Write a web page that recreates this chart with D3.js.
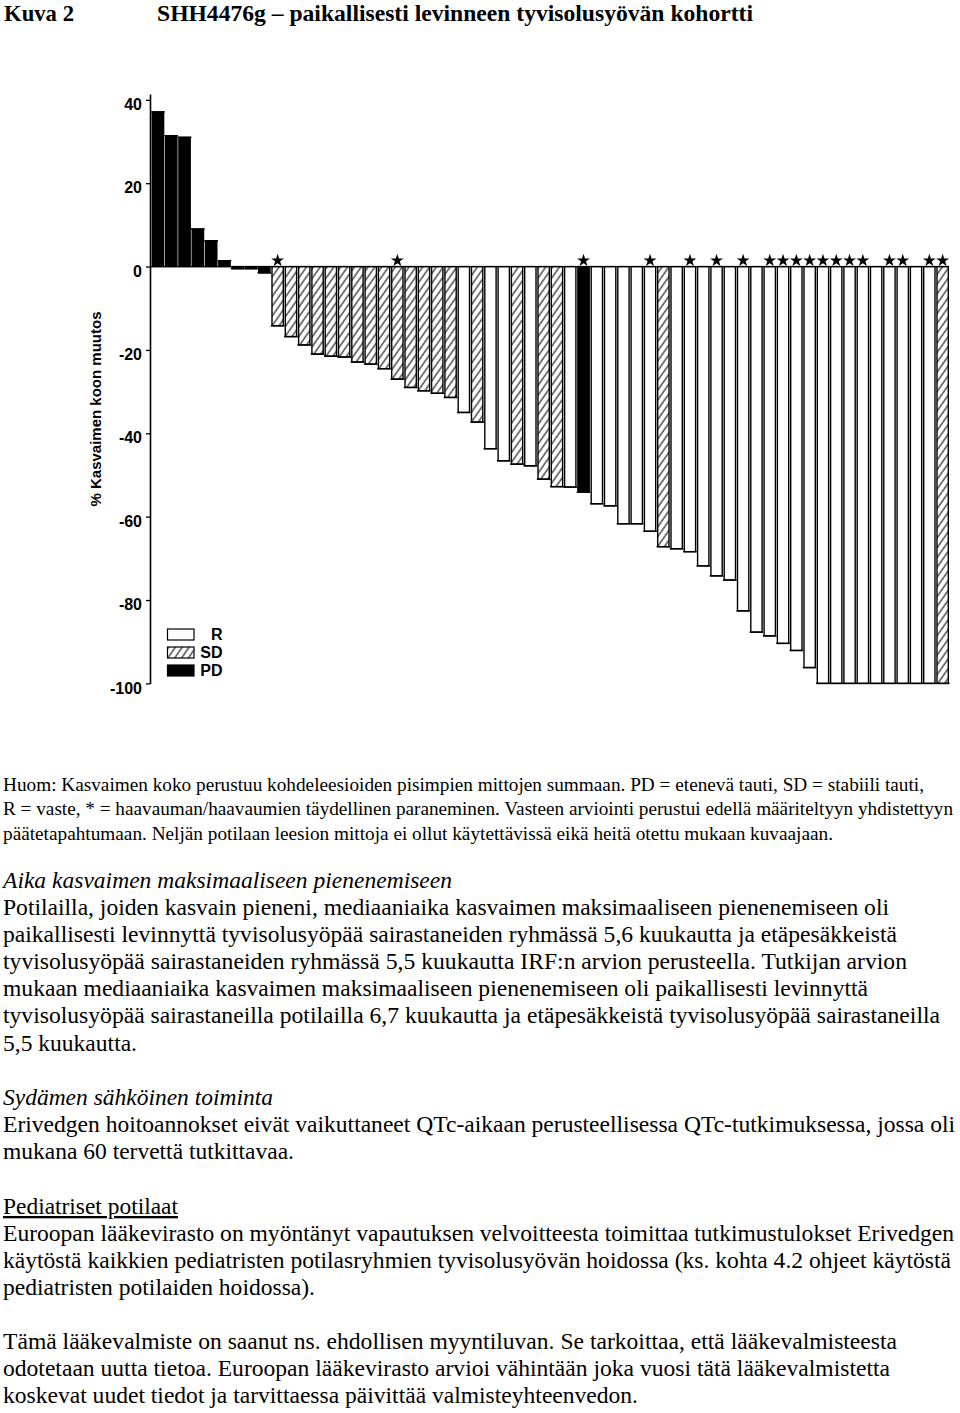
<!DOCTYPE html>
<html>
<head>
<meta charset="utf-8">
<script src="https://cdn.jsdelivr.net/npm/d3@7"></script>
<style>
  html, body { margin: 0; padding: 0; background: #fff; }
  svg { display: block; }
</style>
</head>
<body>
<div id="chart"></div>
<script>
// ---------------- DATA ----------------
const patients = d3.range(1, 61).map(String);
const changePct = [
  37.1, 31.4, 31.0, 9.0, 6.2, 1.4, -0.5, -0.5, -1.5,
  -14.2, -16.8, -18.8, -21.0, -21.5, -21.7, -22.9, -23.4, -24.5, -27.0, -29.0, -29.8, -30.4, -31.4,
  -35.0, -37.3, -43.7, -46.6, -47.4, -47.8, -51.0, -52.8, -52.9, -54.1, -56.9, -57.4,
  -61.7, -61.7, -63.5, -67.2, -67.7, -68.4, -71.8, -74.2, -75.2, -82.6, -87.7, -88.6, -90.4, -92.1, -96.2,
  -100, -100, -100, -100, -100, -100, -100, -100, -100, -100
];
const response = [
  "PD","PD","PD","PD","PD","PD","PD","PD","PD",
  "SD","SD","SD","SD","SD","SD","SD","SD","SD","SD","SD","SD","SD","SD",
  "R","SD","R","R","SD","R","SD","SD","R","PD","R","R",
  "R","R","R","SD","R","R","R","R","R","R","R","R","R","R","R",
  "R","R","R","R","R","R","R","R","R","SD"
];
const healedPatients = [10, 19, 33, 38, 41, 43, 45, 47, 48, 49, 50, 51, 52, 53, 54, 56, 57, 59, 60];
const yTicks = [40, 20, 0, -20, -40, -60, -80, -100];
const yTickLabels = ["40", "20", "0", "-20", "-40", "-60", "-80", "-100"];
const legendItems = ["R", "SD", "PD"];
const yAxisTitle = "% Kasvaimen koon muutos";

const titleLeft = "Kuva 2";
const titleRight = "SHH4476g \u2013 paikallisesti levinneen tyvisolusyövän kohortti";

const noteLines = [
  "Huom: Kasvaimen koko perustuu kohdeleesioiden pisimpien mittojen summaan. PD = etenevä tauti, SD = stabiili tauti,",
  "R = vaste, * = haavauman/haavaumien täydellinen paraneminen. Vasteen arviointi perustui edellä määriteltyyn yhdistettyyn",
  "päätetapahtumaan. Neljän potilaan leesion mittoja ei ollut käytettävissä eikä heitä otettu mukaan kuvaajaan."
];
const bodyLines = [
  "Aika kasvaimen maksimaaliseen pienenemiseen",
  "Potilailla, joiden kasvain pieneni, mediaaniaika kasvaimen maksimaaliseen pienenemiseen oli",
  "paikallisesti levinnyttä tyvisolusyöpää sairastaneiden ryhmässä 5,6 kuukautta ja etäpesäkkeistä",
  "tyvisolusyöpää sairastaneiden ryhmässä 5,5 kuukautta IRF:n arvion perusteella. Tutkijan arvion",
  "mukaan mediaaniaika kasvaimen maksimaaliseen pienenemiseen oli paikallisesti levinnyttä",
  "tyvisolusyöpää sairastaneilla potilailla 6,7 kuukautta ja etäpesäkkeistä tyvisolusyöpää sairastaneilla",
  "5,5 kuukautta.",
  "Sydämen sähköinen toiminta",
  "Erivedgen hoitoannokset eivät vaikuttaneet QTc-aikaan perusteellisessa QTc-tutkimuksessa, jossa oli",
  "mukana 60 tervettä tutkittavaa.",
  "Pediatriset potilaat",
  "Euroopan lääkevirasto on myöntänyt vapautuksen velvoitteesta toimittaa tutkimustulokset Erivedgen",
  "käytöstä kaikkien pediatristen potilasryhmien tyvisolusyövän hoidossa (ks. kohta 4.2 ohjeet käytöstä",
  "pediatristen potilaiden hoidossa).",
  "Tämä lääkevalmiste on saanut ns. ehdollisen myyntiluvan. Se tarkoittaa, että lääkevalmisteesta",
  "odotetaan uutta tietoa. Euroopan lääkevirasto arvioi vähintään joka vuosi tätä lääkevalmistetta",
  "koskevat uudet tiedot ja tarvittaessa päivittää valmisteyhteenvedon."
];
const bodyStyle = ["italic","normal","normal","normal","normal","normal","normal",
  "italic","normal","normal","underline","normal","normal","normal","normal","normal","normal"];

// ---------------- LAYOUT ----------------
const W = 960, H = 1413;
const noteEnds = [924, 953, 833];
const noteBase = [791, 815, 840];
const bodyEnds = [452, 889, 897, 907, 868, 940, 137, 273, 955, 294, 178, 954, 951, 315, 897, 890, 638];
const bodyBase = [888, 915, 942, 969, 996, 1023, 1051, 1105, 1132, 1159, 1214, 1241, 1268, 1295, 1349, 1376, 1403];

const svg = d3.select("#chart").append("svg")
  .attr("width", W).attr("height", H)
  .attr("viewBox", `0 0 ${W} ${H}`);
svg.append("rect").attr("width", W).attr("height", H).attr("fill", "#fff");

const defs = svg.append("defs");
const pat = defs.append("pattern")
  .attr("id", "hatch")
  .attr("patternUnits", "userSpaceOnUse")
  .attr("width", 5.6).attr("height", 5.6)
  .attr("patternTransform", "rotate(35)");
pat.append("rect").attr("width", 5.6).attr("height", 5.6).attr("fill", "#fff");
pat.append("line").attr("x1", 1).attr("y1", 0).attr("x2", 1).attr("y2", 5.6)
  .attr("stroke", "#333").attr("stroke-width", 1.3);

const fills = { R: "#fff", SD: "url(#hatch)", PD: "#000" };

// Title
const serif = "'Liberation Serif', 'Times New Roman', serif";
const sans = "'Liberation Sans', Arial, sans-serif";
svg.append("text").attr("x", 4).attr("y", 21)
  .attr("font-family", serif).attr("font-weight", "bold").attr("font-size", 23)
  .attr("textLength", 70).attr("lengthAdjust", "spacingAndGlyphs")
  .text(titleLeft);
svg.append("text").attr("x", 157).attr("y", 21)
  .attr("font-family", serif).attr("font-weight", "bold").attr("font-size", 23)
  .attr("textLength", 596).attr("lengthAdjust", "spacingAndGlyphs")
  .text(titleRight);

// Scales
const x = d3.scaleBand().domain(patients).range([152.3, 948.3]).paddingInner(0.15).paddingOuter(0);
const y = d3.scaleLinear().domain([-100, 41.4]).range([683.4, 94]);

const chart = svg.append("g");

// Bars
const data = patients.map((p, i) => ({ p, v: changePct[i], r: response[i], star: healedPatients.includes(i + 1) }));
const bars = chart.append("g").selectAll("g").data(data).join("g");
bars.append("rect")
  .attr("x", d => x(d.p))
  .attr("y", d => Math.min(y(d.v), y(0)))
  .attr("width", x.bandwidth())
  .attr("height", d => Math.max(1.2, Math.abs(y(d.v) - y(0))))
  .attr("fill", d => fills[d.r])
  .attr("stroke", "#000")
  .attr("stroke-width", 1.4);
// end caps
bars.append("line")
  .attr("x1", d => x(d.p) - 1.2)
  .attr("x2", d => x(d.p) + x.bandwidth() + 1.2)
  .attr("y1", d => y(d.v)).attr("y2", d => y(d.v))
  .attr("stroke", "#000").attr("stroke-width", 1.4);

// zero line
chart.append("line")
  .attr("x1", 150).attr("x2", x(patients[patients.length - 1]) + x.bandwidth())
  .attr("y1", y(0)).attr("y2", y(0))
  .attr("stroke", "#000").attr("stroke-width", 1.3);

// Stars
chart.append("g").selectAll("path").data(data.filter(d => d.star)).join("path")
  .attr("d", d3.symbol(d3.symbolStar).size(52))
  .attr("transform", d => `translate(${x(d.p) + x.bandwidth() / 2},${y(0) - 6})`)
  .attr("fill", "#000");

// Y axis
const yAxis = d3.axisLeft(y).tickValues(yTicks).tickSize(4).tickSizeOuter(0).tickPadding(4)
  .tickFormat((d, i) => yTickLabels[i]);
const gy = chart.append("g").attr("transform", "translate(150,0)").call(yAxis);
gy.select(".domain").attr("stroke", "#000").attr("stroke-width", 1.6);
gy.selectAll(".tick line").attr("stroke", "#000").attr("stroke-width", 1.3);
gy.selectAll(".tick text")
  .attr("font-family", sans).attr("font-weight", "bold").attr("font-size", 16)
  .attr("fill", "#000").attr("dy", "0.6em");

// Y axis title
chart.append("text")
  .attr("transform", "translate(101,409) rotate(-90)")
  .attr("text-anchor", "middle")
  .attr("font-family", sans).attr("font-weight", "bold").attr("font-size", 15)
  .text(yAxisTitle);

// Legend
const leg = chart.append("g").selectAll("g").data(legendItems).join("g")
  .attr("transform", (d, i) => `translate(167.5,${629 + i * 18})`);
leg.append("rect").attr("width", 26.5).attr("height", 11)
  .attr("fill", d => fills[d]).attr("stroke", "#000").attr("stroke-width", 1.2);
leg.append("text").attr("x", 55).attr("y", 11).attr("text-anchor", "end")
  .attr("font-family", sans).attr("font-weight", "bold").attr("font-size", 16)
  .text(d => d);

// Note text
svg.append("g").selectAll("text").data(noteLines).join("text")
  .attr("x", 3).attr("y", (d, i) => noteBase[i])
  .attr("font-family", serif).attr("font-size", 18.5)
  .attr("textLength", (d, i) => noteEnds[i] - 3).attr("lengthAdjust", "spacingAndGlyphs")
  .text(d => d);

// Body text
svg.append("g").selectAll("text").data(bodyLines).join("text")
  .attr("x", 3).attr("y", (d, i) => bodyBase[i])
  .attr("font-family", serif).attr("font-size", 23)
  .attr("font-style", (d, i) => bodyStyle[i] === "italic" ? "italic" : "normal")
  .attr("text-decoration", (d, i) => bodyStyle[i] === "underline" ? "underline" : null)
  .attr("textLength", (d, i) => bodyEnds[i] - 3).attr("lengthAdjust", "spacingAndGlyphs")
  .text(d => d);
</script>
</body>
</html>
